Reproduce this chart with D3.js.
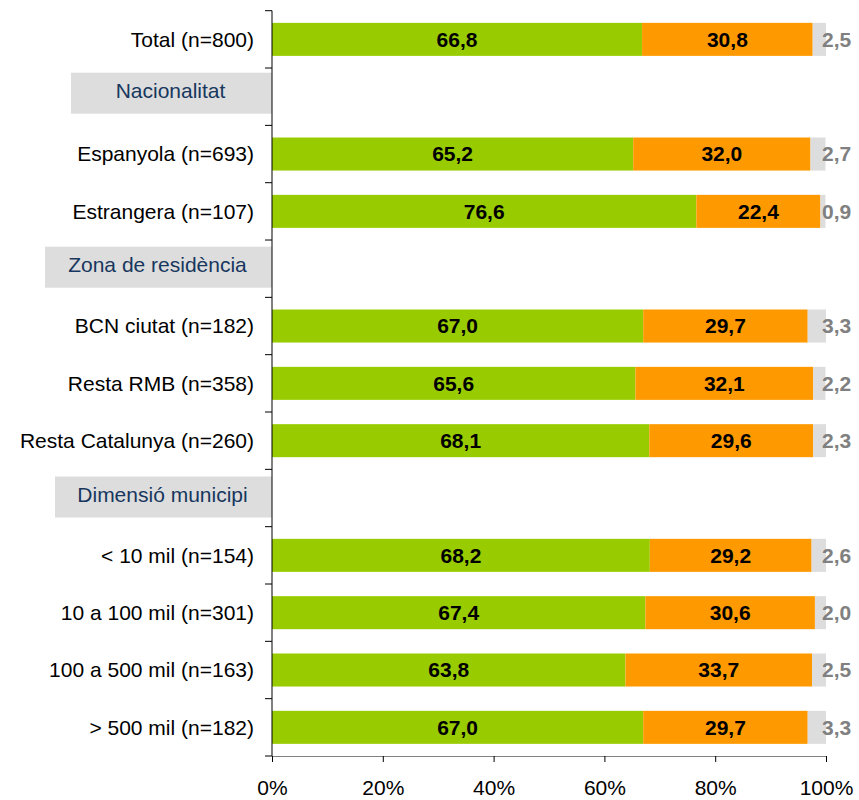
<!DOCTYPE html>
<html>
<head>
<meta charset="utf-8">
<script src="https://cdn.jsdelivr.net/npm/d3@7/dist/d3.min.js"></script>
<style>
  html, body { margin: 0; padding: 0; background: #fff; }
  svg { display: block; font-family: "Liberation Sans", Arial, sans-serif; }
</style>
</head>
<body>
<svg id="chart" width="859" height="800"></svg>
<script>
const categories = ["Total (n=800)", "Nacionalitat", "Espanyola (n=693)", "Estrangera (n=107)",
  "Zona de residència", "BCN ciutat (n=182)", "Resta RMB (n=358)", "Resta Catalunya (n=260)",
  "Dimensió municipi", "< 10 mil (n=154)", "10 a 100 mil (n=301)", "100 a 500 mil (n=163)", "> 500 mil (n=182)"];
const isHeader = [false, true, false, false, true, false, false, false, true, false, false, false, false];
const greenValues  = [66.8, null, 65.2, 76.6, null, 67.0, 65.6, 68.1, null, 68.2, 67.4, 63.8, 67.0];
const orangeValues = [30.8, null, 32.0, 22.4, null, 29.7, 32.1, 29.6, null, 29.2, 30.6, 33.7, 29.7];
const greyValues   = [2.5,  null, 2.7,  0.9,  null, 3.3,  2.2,  2.3,  null, 2.6,  2.0,  2.5,  3.3];
const xTicks = [0, 20, 40, 60, 80, 100];

(function () {
const svg = d3.select("#chart");
const pLeft = 272, pRight = 826, pTop = 10.7, pBottom = 756;
const FS = 21;

const x = d3.scaleLinear().domain([0, 100]).range([pLeft, pRight]);
const y = d3.scaleBand().domain(d3.range(categories.length)).range([pTop, pBottom])
  .paddingInner(0.424).paddingOuter(0.212);

const colors = ["#99CC00", "#FF9900", "#DDDDDD"];
const series = [greenValues, orangeValues, greyValues];
const headerLeft = { 1: 71, 4: 45, 8: 55 };
const headerShift = { 1: -3.5, 4: -1.5, 8: -1 };

// header boxes
categories.forEach((c, i) => {
  if (!isHeader[i]) return;
  const cy = y(i) + y.bandwidth() / 2 + headerShift[i];
  const bx = headerLeft[i];
  svg.append("rect").attr("x", bx).attr("y", cy - 20.5).attr("width", pLeft - bx).attr("height", 41)
    .attr("fill", "#DDDDDD");
  svg.append("text").attr("x", (bx + pLeft) / 2 - 1).attr("y", cy - 2.5).attr("dy", "0.35em")
    .attr("text-anchor", "middle").attr("font-size", FS).attr("fill", "#17375E").text(c);
});

// bars
categories.forEach((c, i) => {
  if (isHeader[i]) return;
  let cum = 0;
  const by = y(i), bh = y.bandwidth(), cy = by + bh / 2;
  series.forEach((s, k) => {
    const v = s[i];
    const x0 = x(cum), x1 = x(Math.min(100, cum + v));
    svg.append("rect").attr("x", x0).attr("y", by).attr("width", Math.max(0, x1 - x0)).attr("height", bh)
      .attr("fill", colors[k]);
    const lbl = d3.format(".1f")(v).replace(".", ",");
    if (k < 2) {
      svg.append("text").attr("x", (x0 + x1) / 2).attr("y", cy).attr("dy", "0.35em")
        .attr("text-anchor", "middle").attr("font-size", FS).attr("font-weight", "bold")
        .attr("fill", "#000").text(lbl);
    } else {
      svg.append("text").attr("x", x(100) - 4).attr("y", cy).attr("dy", "0.35em")
        .attr("text-anchor", "start").attr("font-size", FS).attr("font-weight", "bold")
        .attr("fill", "#808080").text(lbl);
    }
    cum += v;
  });
  svg.append("text").attr("x", 254).attr("y", cy).attr("dy", "0.35em")
    .attr("text-anchor", "end").attr("font-size", FS).attr("fill", "#000").text(c);
});

// left axis
svg.append("line").attr("x1", pLeft).attr("x2", pLeft).attr("y1", pTop).attr("y2", pBottom)
  .attr("stroke", "#000").attr("stroke-width", 1);
d3.range(categories.length + 1).forEach(i => {
  const ty = pTop + i * y.step();
  svg.append("line").attr("x1", pLeft - 7).attr("x2", pLeft).attr("y1", ty).attr("y2", ty)
    .attr("stroke", "#000").attr("stroke-width", 1);
});

// bottom axis
const xAxis = d3.axisBottom(x).tickValues(xTicks).tickFormat(d => d + "%").tickSize(6).tickSizeOuter(0);
const gx = svg.append("g").attr("transform", `translate(0,${pBottom})`).call(xAxis);
gx.select(".domain").attr("stroke", "#808080");
gx.selectAll(".tick line").attr("stroke", "#000");
gx.selectAll(".tick text").attr("y", 39).attr("dy", 0).attr("font-size", FS)
  .attr("font-family", "'Liberation Sans', Arial, sans-serif").attr("fill", "#000");
})();
</script>
</body>
</html>
